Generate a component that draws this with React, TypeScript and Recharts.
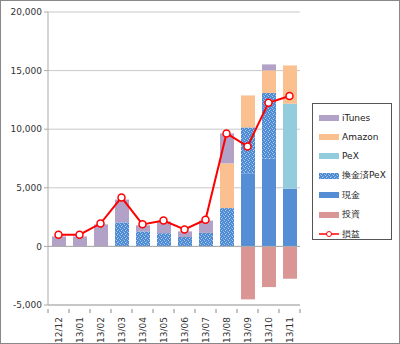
import { Bar, CartesianGrid, ComposedChart, Line, ReferenceLine, XAxis, YAxis } from 'recharts'

const months = ['12/12', '13/01', '13/02', '13/03', '13/04', '13/05', '13/06', '13/07', '13/08', '13/09', '13/10', '13/11']
const cash = [0, 0, 0, 0, 0, 0, 0, 0, 0, 6250, 7480, 4920]
const exchangedPex = [0, 0, 0, 2050, 1280, 1130, 800, 1150, 3270, 3900, 5600, 0]
const pex = [0, 0, 0, 0, 0, 0, 0, 0, 0, 0, 0, 7250]
const amazon = [0, 0, 0, 0, 0, 0, 0, 0, 3810, 2730, 1940, 3270]
const itunes = [850, 850, 1880, 1950, 520, 1000, 480, 1050, 2560, 0, 510, 0]
const invest = [0, 0, 0, 0, 0, 0, 0, 0, 0, -4520, -3470, -2760]
const profit = [1000, 1000, 1950, 4180, 1880, 2200, 1450, 2280, 9640, 8530, 12260, 12830]
const yTicks = [-5000, 0, 5000, 10000, 15000, 20000]

const data = months.map((m, i) => ({
  month: m,
  cash: cash[i],
  exchangedPex: exchangedPex[i],
  pex: pex[i],
  amazon: amazon[i],
  itunes: itunes[i],
  invest: invest[i],
  profit: profit[i],
}))

const FONT = '"DejaVu Sans", Verdana, sans-serif'

const LEGEND_ITEMS = [
  { label: 'iTunes', fill: '#B3A2C7' },
  { label: 'Amazon', fill: '#FAC090' },
  { label: 'PeX', fill: '#93CDDD' },
  { label: '換金済PeX', fill: 'url(#pexDots)' },
  { label: '現金', fill: '#558ED5' },
  { label: '投資', fill: '#D99694' },
  { label: '損益', line: true },
]

function ChartLegend() {
  return (
    <div
      style={{
        position: 'absolute',
        left: 311,
        top: 102,
        width: 80,
        height: 137,
        border: '1px solid #555',
        background: '#fff',
        boxSizing: 'border-box',
        paddingTop: 4,
      }}
    >
      {LEGEND_ITEMS.map((it) => (
        <div key={it.label} style={{ display: 'flex', alignItems: 'center', height: 19.4, fontFamily: FONT, fontSize: 9, color: '#222' }}>
          <svg width={24} height={10} style={{ marginLeft: 4, marginRight: 1 }}>
            {it.line ? (
              <>
                <line x1={2} x2={22} y1={5} y2={5} stroke="#FF0000" strokeWidth={1.5} />
                <circle cx={12} cy={5} r={2.5} fill="#fff" stroke="#FF0000" strokeWidth={1} />
              </>
            ) : (
              <rect x={2} y={2} width={20} height={6} fill={it.fill} />
            )}
          </svg>
          <span>{it.label}</span>
        </div>
      ))}
    </div>
  )
}

function MonthTick(props: any) {
  const { x, y, payload, index } = props
  const half = 10.5
  return (
    <g>
      <line x1={x - half} x2={x - half} y1={y - 4} y2={y} stroke="#888" />
      {index === months.length - 1 && <line x1={x + half} x2={x + half} y1={y - 4} y2={y} stroke="#888" />}
      <text
        transform={`translate(${x + 3},${y + 4}) rotate(-90)`}
        textAnchor="end"
        fontSize={9}
        fontFamily={FONT}
        fill="#333"
      >
        {payload.value}
      </text>
    </g>
  )
}

export default function App() {
  return (
    <div
      style={{
        position: 'absolute',
        left: 0,
        top: 0,
        width: 400,
        height: 344,
        border: '1px solid #888',
        boxSizing: 'border-box',
        background: '#fff',
      }}
    >
      <svg width={0} height={0} style={{ position: 'absolute' }}>
        <defs>
          <pattern id="pexDots" width={4} height={4} patternUnits="userSpaceOnUse">
            <rect width={4} height={4} fill="#4F8BD3" />
            <rect x={0} y={0} width={1} height={1} fill="#A9CBEE" />
            <rect x={2} y={1} width={1} height={1} fill="#8DB8E6" />
            <rect x={1} y={2} width={1} height={1} fill="#B7D4F2" />
            <rect x={3} y={3} width={1} height={1} fill="#8DB8E6" />
          </pattern>
        </defs>
      </svg>
      <div style={{ position: 'absolute', left: -1, top: -1 }}>
        <ComposedChart
          width={400}
          height={344}
          data={data}
          margin={{ top: 12, right: 100, bottom: 0, left: 0 }}
          barSize={14}
          stackOffset="sign"
        >
          <CartesianGrid vertical={false} stroke="#C8C8C8" />
          <XAxis
            dataKey="month"
            height={39}
            axisLine={{ stroke: '#AAA' }}
            tickLine={false}
            interval={0}
            tick={<MonthTick />}
          />
          <YAxis
            width={48}
            domain={[-5000, 20000]}
            ticks={yTicks}
            tickFormatter={(v: number) => v.toLocaleString('en-US')}
            axisLine={{ stroke: '#AAA' }}
            tickLine={{ stroke: '#AAA' }}
            tickSize={4}
            tick={{ fontSize: 9, fontFamily: FONT, fill: '#333' }}
          />
          <ReferenceLine y={0} stroke="#AAA" />
          <Bar dataKey="cash" name="現金" stackId="a" fill="#558ED5" isAnimationActive={false} />
          <Bar dataKey="exchangedPex" name="換金済PeX" stackId="a" fill="url(#pexDots)" isAnimationActive={false} />
          <Bar dataKey="pex" name="PeX" stackId="a" fill="#93CDDD" isAnimationActive={false} />
          <Bar dataKey="amazon" name="Amazon" stackId="a" fill="#FAC090" isAnimationActive={false} />
          <Bar dataKey="itunes" name="iTunes" stackId="a" fill="#B3A2C7" isAnimationActive={false} />
          <Bar dataKey="invest" name="投資" stackId="a" fill="#D99694" isAnimationActive={false} />
          <Line
            dataKey="profit"
            name="損益"
            stroke="#FF0000"
            strokeWidth={2}
            dot={{ r: 3.5, fill: '#fff', stroke: '#FF0000', strokeWidth: 1.5 }}
            isAnimationActive={false}
          />
        </ComposedChart>
      </div>
      <ChartLegend />
    </div>
  )
}
